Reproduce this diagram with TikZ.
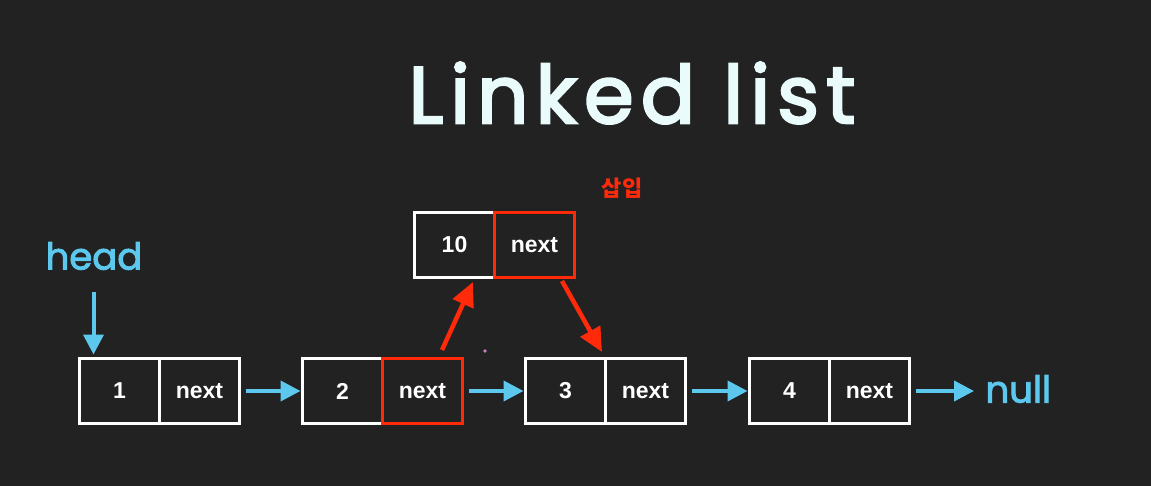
\documentclass[tikz,border=0pt]{standalone}
\usepackage{fontspec}
\setmainfont{Liberation Sans}
\newfontfamily\handfont[FakeBold=2.5]{Poppins}
\newfontfamily\titlefont[FakeBold=3,LetterSpace=9]{Poppins}
\newfontfamily\kofont{Noto Sans CJK KR}
\usetikzlibrary{arrows.meta,calc}
\definecolor{bgc}{HTML}{222222}
\definecolor{cyanc}{HTML}{5CC8EE}
\definecolor{redc}{HTML}{FF2A0A}
\definecolor{titlec}{HTML}{EAFBFB}
\tikzset{
  cell/.style={draw=white, line width=3pt, minimum width=80pt, minimum height=65pt,
    inner sep=0pt, outer sep=0pt, text=white, font=\fontsize{23}{23}\selectfont\bfseries},
  redcell/.style={draw=redc, line width=3.8pt, minimum width=80pt, minimum height=65pt,
    inner sep=0pt, outer sep=0pt},
  link/.style={draw=cyanc, line width=4pt, -{Triangle[length=20pt,width=20pt]}},
  redlink/.style={draw=redc, line width=4.5pt, -{Triangle[length=24pt,width=22pt]}},
  hand/.style={text=cyanc, font=\handfont\fontsize{37}{37}\selectfont}
}
\begin{document}
\begin{tikzpicture}[x=1pt,y=-1pt]
\fill[bgc] (0,0) rectangle (1151,486);
\useasboundingbox (0,0) rectangle (1151,486);
% title
\node[text=titlec, font=\titlefont\fontsize{80}{80}\selectfont] (title) at (632,93) {Linked list};
% list nodes
\foreach \i/\x/\v in {1/119.5/1, 2/342.5/2, 3/565.5/3, 4/789.5/4}{
  \node[cell] (v\i) at (\x,391) {\v};
  \node[cell, anchor=west] (n\i) at (v\i.east) {next};
}
% inserted node
\node[cell] (vt) at (454.5,245) {10};
\node[cell, anchor=west] (nt) at (vt.east) {next};
\node[redcell] (rt) at (nt.center) {};
\node[redcell] (r2) at (n2.center) {};
% labels
\node[text=redc, font=\kofont\bfseries\fontsize{22}{22}\selectfont] (ins) at (622,188) {삽입};
\node[hand] (head) at (94,256) {head};
\node[hand, anchor=west] (null) at (982,389) {null};
% head arrow
\coordinate (hs) at ($(v1.north west)+(14,-66)$);
\draw[link] (hs) -- ($(v1.north west)+(14,-4)$);
% cyan links
\draw[link] ($(n1.east)+(6,0)$) -- ($(v2.west)+(-2,0)$);
\draw[link] ($(n2.east)+(6,0)$) -- ($(v3.west)+(-2,0)$);
\draw[link] ($(n3.east)+(6,0)$) -- ($(v4.west)+(-2,0)$);
\draw[link] ($(n4.east)+(6,0)$) -- ($(null.west |- n4.east)+(-8,0)$);
% red links
\coordinate (r1s) at (442,350);
\coordinate (r1e) at (473,282);
\coordinate (r2s) at (562,281);
\coordinate (r2e) at (602,352);
\draw[redlink] (r1s) -- (r1e);
\draw[redlink] (r2s) -- (r2e);
% small dot
\fill[violet!50] (485,351) circle (1.8pt);
\end{tikzpicture}
\end{document}
